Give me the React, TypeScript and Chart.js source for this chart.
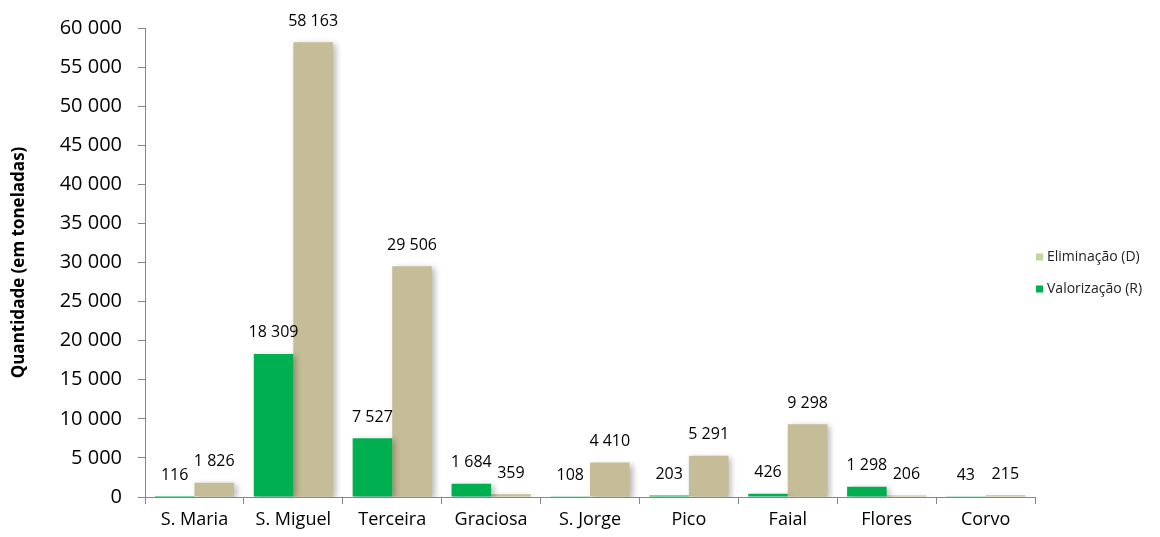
import React, { useEffect, useRef } from "react";
import { Chart, registerables } from "chart.js";

Chart.register(...registerables);

const categories = ["S. Maria", "S. Miguel", "Terceira", "Graciosa", "S. Jorge", "Pico", "Faial", "Flores", "Corvo"];
const valorizacao = [116, 18309, 7527, 1684, 108, 203, 426, 1298, 43];
const eliminacao = [1826, 58163, 29506, 359, 4410, 5291, 9298, 206, 215];
const legendLabels = ["Eliminação (D)", "Valorização (R)"];
const yTitle = "Quantidade (em toneladas)";

const fmt = (v: number) => String(Math.round(v)).replace(/\B(?=(\d{3})+(?!\d))/g, " ");

const GREEN = "#00B050";
const TAN = "#C4BD97";
const AXIS = "#868686";
const FONT = "'Open Sans', 'DejaVu Sans', sans-serif";

const shadowAndLabels = {
  id: "shadowAndLabels",
  beforeDatasetsDraw(chart: any) {
    const ctx = chart.ctx;
    ctx.save();
    ctx.shadowColor = "rgba(0,0,0,0.28)";
    ctx.shadowBlur = 6;
    ctx.shadowOffsetX = 3;
    ctx.shadowOffsetY = 2;
  },
  afterDatasetsDraw(chart: any) {
    const ctx = chart.ctx;
    ctx.restore();
    ctx.save();
    ctx.font = `16px ${FONT}`;
    ctx.fillStyle = "#000";
    ctx.textAlign = "center";
    ctx.textBaseline = "middle";
    chart.data.datasets.forEach((ds: any, i: number) => {
      const meta = chart.getDatasetMeta(i);
      meta.data.forEach((bar: any, j: number) => {
        ctx.fillText(fmt(ds.data[j]), bar.x, bar.y - 21);
      });
    });
    ctx.restore();
    // legend
    ctx.save();
    ctx.font = `14px ${FONT}`;
    ctx.textBaseline = "middle";
    ctx.textAlign = "left";
    const items = [
      { text: legendLabels[0], color: "#C3D69B", y: 257 },
      { text: legendLabels[1], color: GREEN, y: 289 },
    ];
    items.forEach((it) => {
      ctx.fillStyle = it.color;
      ctx.fillRect(1036, it.y - 3.5, 7, 7);
      ctx.fillStyle = "#222";
      ctx.fillText(it.text, 1047, it.y);
    });
    ctx.restore();
  },
};

export default function App() {
  const ref = useRef<HTMLCanvasElement | null>(null);
  useEffect(() => {
    document.body.style.margin = "0";
    if (!ref.current) return;
    const chart = new Chart(ref.current, {
      type: "bar",
      data: {
        labels: categories,
        datasets: [
          { label: legendLabels[1], data: valorizacao, backgroundColor: GREEN, borderWidth: 0 },
          { label: legendLabels[0], data: eliminacao, backgroundColor: TAN, borderWidth: 0 },
        ],
      },
      options: {
        responsive: false,
        animation: false,
        layout: { padding: { left: 0, right: 125, top: 27, bottom: 0 } },
        plugins: { legend: { display: false }, tooltip: { enabled: false } },
        datasets: { bar: { categoryPercentage: 0.8, barPercentage: 1 } },
        scales: {
          x: {
            grid: { display: true, drawOnChartArea: false, color: AXIS, tickLength: 7, offset: true },
            border: { display: true, color: AXIS, width: 1 },
            ticks: { color: "#000", font: { size: 18, family: FONT }, padding: 5 },
            afterFit: (s: any) => { s.height = 40; },
          },
          y: {
            min: 0,
            max: 60000,
            grid: { display: true, drawOnChartArea: false, color: AXIS, tickLength: 7 },
            border: { display: true, color: AXIS, width: 1 },
            ticks: {
              stepSize: 5000,
              color: "#000",
              font: { size: 20, family: FONT },
              padding: 16,
              callback: (v: any) => fmt(Number(v)),
            },
            title: {
              display: true,
              text: yTitle,
              color: "#000",
              font: { size: 17, weight: "bold", family: FONT },
              padding: { top: 9, bottom: 0 },
            },
            afterFit: (s: any) => { s.width = 145; },
          },
        },
      },
      plugins: [shadowAndLabels],
    });
    return () => chart.destroy();
  }, []);
  return <canvas ref={ref} width={1160} height={537} style={{ display: "block" }} />;
}
